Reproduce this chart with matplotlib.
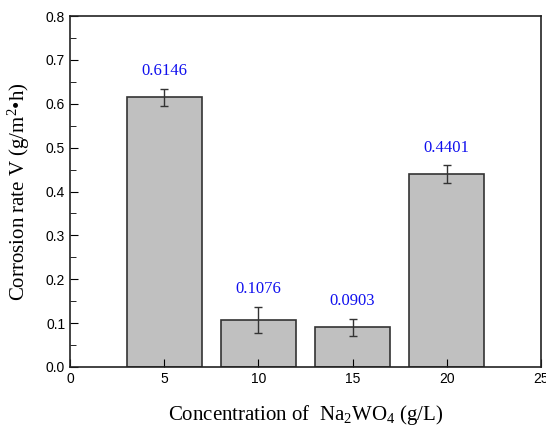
import matplotlib.pyplot as plt
from matplotlib.ticker import MultipleLocator

# concentration of Na2WO4 (g/L) and corrosion rate
conc = [5, 10, 15, 20]
rate = [0.6146, 0.1076, 0.0903, 0.4401]
err = [0.02, 0.03, 0.02, 0.02]
labels = ['0.6146', '0.1076', '0.0903', '0.4401']

plt.rcParams['mathtext.fontset'] = 'custom'
plt.rcParams['mathtext.rm'] = 'Liberation Serif'
plt.rcParams['mathtext.it'] = 'Liberation Serif:italic'

fig = plt.figure(figsize=(5.46, 4.3), dpi=100)
ax = fig.add_axes([70/546, 1 - 367/430, 471/546, 351/430])

ax.bar(conc, rate, width=4, color='#c0c0c0', edgecolor='#333333', linewidth=1.2,
       yerr=err, error_kw=dict(ecolor='#333333', elinewidth=1, capsize=3, capthick=1))

for x, v, e, t in zip(conc, rate, err, labels):
    ax.text(x, v + e + 0.04, t, ha='center', va='center', color='#1010ee',
            fontsize=12, family='Liberation Serif')

ax.set_xlim(0, 25)
ax.set_ylim(0, 0.8)
ax.xaxis.set_major_locator(MultipleLocator(5))
ax.yaxis.set_major_locator(MultipleLocator(0.1))
ax.yaxis.set_minor_locator(MultipleLocator(0.05))
ax.tick_params(direction='in', which='both', labelsize=10)
ax.tick_params(which='major', length=6)
ax.tick_params(which='minor', length=4)
for lab in ax.get_xticklabels() + ax.get_yticklabels():
    lab.set_family('Liberation Sans')
ax.yaxis.set_major_formatter(plt.FuncFormatter(lambda v, p: f'{v:.1f}'))

for s in ax.spines.values():
    s.set_linewidth(1.2)
    s.set_color('#222222')

ax.set_xlabel('Concentration of  Na$_2$WO$_4$ (g/L)', fontsize=15,
              family='Liberation Serif', labelpad=12)
ax.set_ylabel('Corrosion rate V (g/m$^2$\u2022h)', fontsize=15,
              family='Liberation Serif', labelpad=10)

fig.savefig('out.png', dpi=100)
